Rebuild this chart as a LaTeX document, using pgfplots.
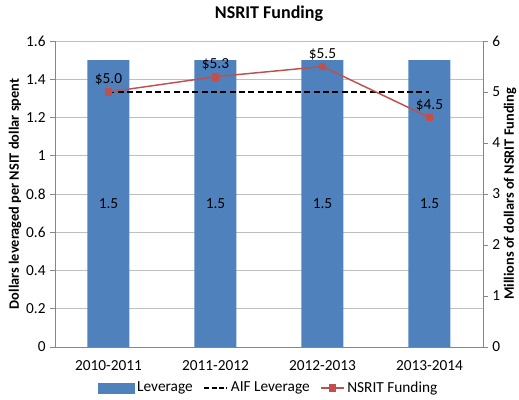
\documentclass[border=0pt]{standalone}
\usepackage{fontspec}
\setmainfont{Carlito}
\usepackage{pgfplots}
\pgfplotsset{compat=1.18}
\definecolor{barblue}{HTML}{4F81BD}
\definecolor{linered}{HTML}{C0504D}
\definecolor{gridgray}{HTML}{BFBFBF}
\definecolor{axisgray}{HTML}{868686}

\pgfplotsset{
  common/.style={
    scale only axis, width=321pt, height=229.5pt,
    at={(41.25pt,39.75pt)}, anchor=south west,
    xmin=-0.5, xmax=3.5,
    /pgf/number format/assume math mode=true,
    tick label style={font=\fontsize{11.5}{13}\selectfont},
    label style={font=\bfseries\fontsize{10.75}{12}\selectfont},
    axis line style={axisgray},
    every tick/.style={axisgray},
    major tick length=3.5pt,
    tick align=outside,
  }
}

\begin{document}
\begin{tikzpicture}
\useasboundingbox (0,0) rectangle (389.25pt,300pt);
\begin{axis}[
  common,
  axis x line*=bottom, axis y line*=left,
  ymin=0, ymax=1.6, ytick={0,0.2,...,1.6},
  yticklabel style={/pgf/number format/fixed, /pgf/number format/precision=1},
  ymajorgrids, grid style={gridgray, line width=0.6pt},
  xtick={0,1,2,3},
  xticklabels={2010-2011,2011-2012,2012-2013,2013-2014},
  x tick style={draw=none},
  xticklabel style={yshift=-3pt},
  ylabel={Dollars leveraged per NSIT dollar spent},
  ylabel style={at={(axis description cs:-0.0935,0.5)}, anchor=center},
  title={NSRIT Funding},
  title style={font=\bfseries\fontsize{13.5}{15}\selectfont, yshift=5pt},
]
\addplot[ybar, bar width=31.5pt, fill=barblue, draw=none] coordinates {
(0,1.5) (1,1.5) (2,1.5) (3,1.5)
};
\addplot[draw=none, mark=none, nodes near coords, point meta=explicit symbolic,
  every node near coord/.append style={anchor=center, font=\fontsize{11.5}{13}\selectfont}]
  coordinates {(0,0.75)[1.5] (1,0.75)[1.5] (2,0.75)[1.5] (3,0.75)[1.5]};
\addplot[black, line width=1.8pt, dash pattern=on 4.5pt off 2.5pt] coordinates {
(0,1.333) (3,1.333)
};
\end{axis}
\begin{axis}[
  common,
  axis x line=none, axis y line*=right,
  ymin=0, ymax=6, ytick={0,1,...,6},
  xtick=\empty,
  ylabel={Millions of dollars of NSRIT Funding},
  ylabel style={at={(axis description cs:1.063,0.5)}, anchor=center},
  legend style={at={(0.5,0)}, yshift=-30.75pt, anchor=center, draw=none,
    legend columns=3, font=\fontsize{11.5}{13}\selectfont,
    /tikz/every even column/.append style={column sep=6pt}},
  legend cell align=left,
]
\addlegendimage{legend image code/.code={\fill[barblue] (0cm,-0.13cm) rectangle (0.95cm,0.13cm);}}
\addlegendentry{Leverage}
\addlegendimage{black, line width=1.6pt, dash pattern=on 3.5pt off 2pt}
\addlegendentry{AIF Leverage}
\addplot[linered, line width=1.1pt, mark=square*, mark size=2.4pt,
  mark options={fill=linered, draw=linered},
  nodes near coords, point meta=explicit symbolic,
  every node near coord/.append style={black, anchor=south, yshift=1pt, font=\fontsize{11.5}{13}\selectfont}]
  coordinates {(0,5.0)[\$5.0] (1,5.3)[\$5.3] (2,5.5)[\$5.5] (3,4.5)[\$4.5]};
\addlegendentry{NSRIT Funding}
\end{axis}
\end{tikzpicture}
\end{document}
